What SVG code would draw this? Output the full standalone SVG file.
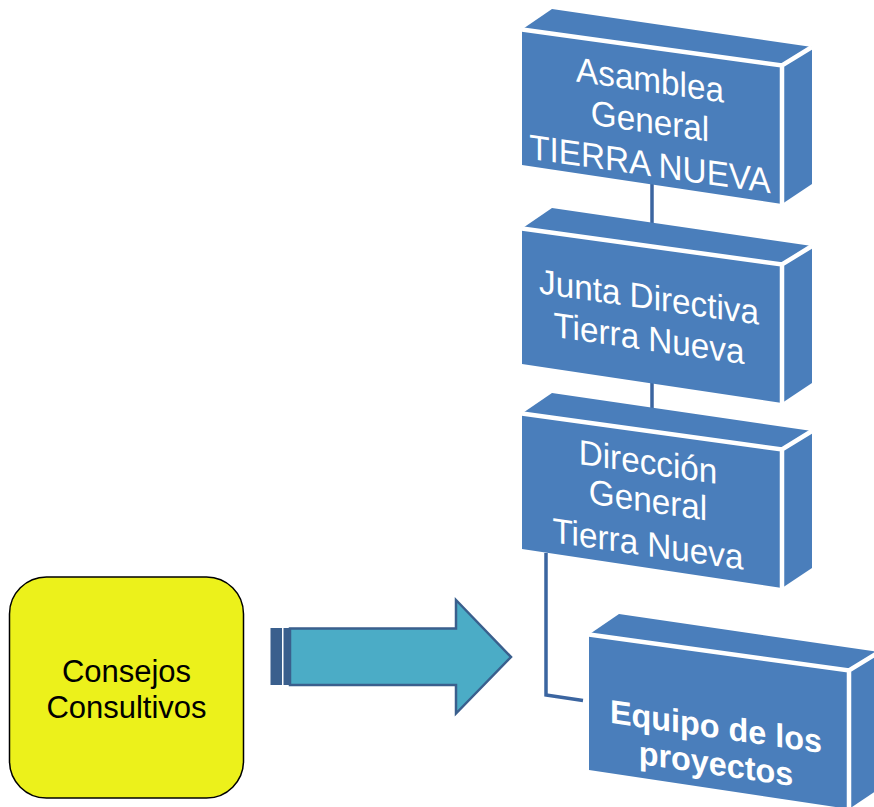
<svg xmlns="http://www.w3.org/2000/svg" xmlns:xlink="http://www.w3.org/1999/xlink" width="874" height="807" viewBox="0 0 874 807">
<style>
.face{fill:#4A7EBB;}
.edge{fill:none;stroke:#FFFFFF;stroke-width:4.5;stroke-linejoin:miter;}
.lbl{font-family:"Liberation Sans",Arial,sans-serif;font-size:35px;fill:#FFFFFF;text-anchor:middle;}
.lblb{font-family:"Liberation Sans",Arial,sans-serif;font-size:33px;font-weight:bold;fill:#FFFFFF;text-anchor:middle;}
.conn{fill:none;stroke:#3B65A0;stroke-width:3.5;}
.ctext{font-family:"Liberation Sans",Arial,sans-serif;font-size:31px;fill:#000000;text-anchor:middle;}
</style>
<defs>
<g id="box3d">
<polygon class="face" points="0,0 260,36 260,174.5 0,135.5"/>
<polygon class="face" points="0,0 30,-20.5 290,17.5 260,36"/>
<polygon class="face" points="260,36 290,17.5 290,154.5 260,174.5"/>
<path class="edge" d="M0,0 L260,36 L290,17.5 M260,36 L260,174.5"/>
</g>
</defs>
<rect width="874" height="807" fill="#FFFFFF"/>
<g id="connectors">
<line class="conn" x1="652" y1="184" x2="652" y2="246"/>
<line class="conn" x1="652" y1="383" x2="652" y2="431"/>
<path class="conn" d="M546,553 L546,695 L583,700.5"/>
</g>
<g id="asamblea">
<use xlink:href="#box3d" transform="translate(522,29.5)"/>
<g transform="matrix(0.95 0.136 0 1 650 0)">
<text class="lbl" x="0" y="92">Asamblea</text>
<text class="lbl" x="0" y="133">General</text>
<text class="lbl" x="0" y="176">TIERRA NUEVA</text>
</g>
</g>
<g id="junta">
<use xlink:href="#box3d" transform="translate(522,228.5)"/>
<g transform="matrix(0.95 0.136 0 1 649 0)">
<text class="lbl" x="0" y="309">Junta Directiva</text>
<text class="lbl" x="0" y="350.5">Tierra Nueva</text>
</g>
</g>
<g id="direccion">
<use xlink:href="#box3d" transform="translate(522,413.5)"/>
<g transform="matrix(0.95 0.136 0 1 648 0)">
<text class="lbl" x="0" y="474">Dirección</text>
<text class="lbl" x="0" y="512">General</text>
<text class="lbl" x="0" y="556">Tierra Nueva</text>
</g>
</g>
<g id="equipo">
<use xlink:href="#box3d" transform="translate(589,634.5)"/>
<g transform="matrix(0.98 0.14 0 1 716 0)">
<text class="lblb" x="0" y="738">Equipo de los</text>
<text class="lblb" x="0" y="775">proyectos</text>
</g>
</g>
<g id="consejos">
<rect x="9.5" y="577" width="234" height="221" rx="37" ry="37" fill="#ECF11B" stroke="#000000" stroke-width="1.5"/>
<text class="ctext" x="126.5" y="682">Consejos</text>
<text class="ctext" x="126.5" y="718">Consultivos</text>
</g>
<g id="arrow">
<rect x="270.5" y="628" width="11.5" height="57" fill="#3A5F8D"/>
<rect x="283.5" y="628" width="6" height="57" fill="#3A5F8D"/>
<polygon points="290,628.5 456,628.5 456,600 511,657 456,713.5 456,685 290,685" fill="#4BACC6" stroke="#3A5F8D" stroke-width="2.5" stroke-linejoin="miter"/>
</g>
</svg>
